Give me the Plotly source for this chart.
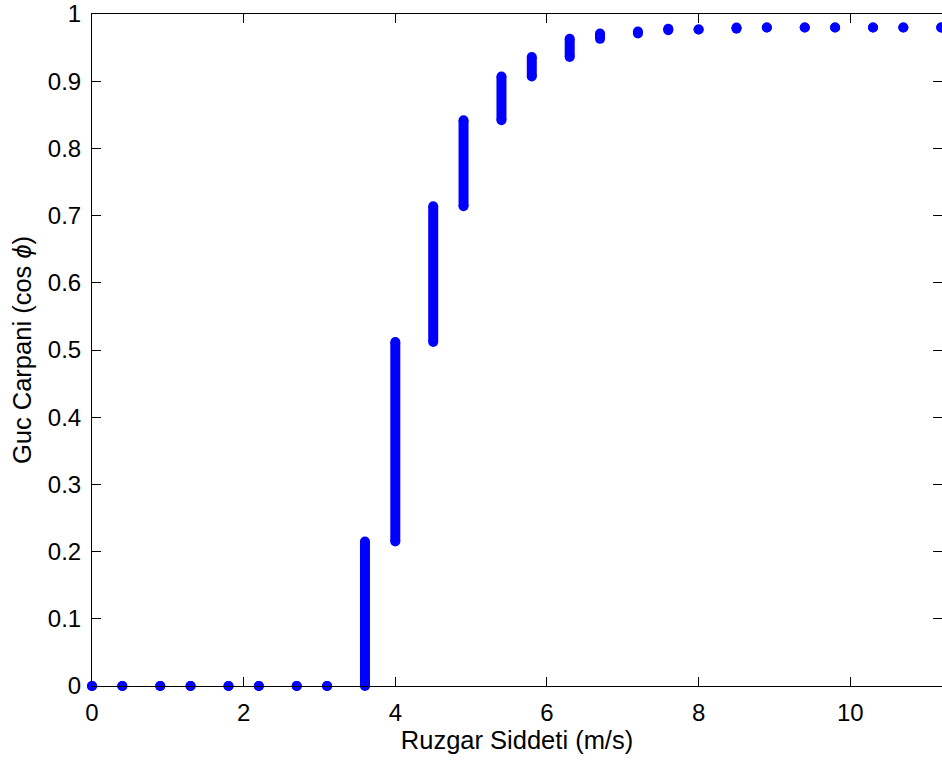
import plotly.graph_objects as go

# Wind speed bins (m/s) and the power-factor span observed in each bin
wind_speed = [0, 0.4, 0.9, 1.3, 1.8, 2.2, 2.7, 3.1, 3.6, 4.0, 4.5, 4.9, 5.4,
              5.8, 6.3, 6.7, 7.2, 7.6, 8.0, 8.5, 8.9, 9.4, 9.8, 10.3, 10.7, 11.2]
pf_low = [0, 0, 0, 0, 0, 0, 0, 0, 0, 0.215, 0.512, 0.714, 0.842,
          0.907, 0.936, 0.963, 0.971, 0.976, 0.977, 0.978, 0.980, 0.980, 0.980, 0.980, 0.980, 0.980]
pf_high = [0, 0, 0, 0, 0, 0, 0, 0, 0.215, 0.512, 0.714, 0.842, 0.907,
           0.936, 0.963, 0.971, 0.974, 0.978, 0.977, 0.980, 0.980, 0.980, 0.980, 0.980, 0.980, 0.980]

x_ticks = [0, 2, 4, 6, 8, 10]
y_ticks = [0, 0.1, 0.2, 0.3, 0.4, 0.5, 0.6, 0.7, 0.8, 0.9, 1]
y_tick_text = ["0", "0.1", "0.2", "0.3", "0.4", "0.5", "0.6", "0.7", "0.8", "0.9", "1"]

# Each bin becomes a vertical stroke from its low to its high value
xs, ys = [], []
for x, lo, hi in zip(wind_speed, pf_low, pf_high):
    xs += [x, x, None]
    ys += [lo, hi, None]

BLUE = "#0000ff"
FONT = "Liberation Sans, Arial, sans-serif"

fig = go.Figure(go.Scatter(
    x=xs, y=ys, mode="lines+markers",
    line=dict(color=BLUE, width=10),
    marker=dict(color=BLUE, size=10, line=dict(width=0)),
    cliponaxis=False, hoverinfo="skip", showlegend=False,
))

axis_common = dict(
    showgrid=False, zeroline=False,
    showline=True, linecolor="black", linewidth=1, mirror="ticks",
    ticks="inside", ticklen=9, tickwidth=1, tickcolor="black",
    tickfont=dict(family=FONT, size=24, color="black"),
    ticklabelstandoff=5,
)

fig.update_xaxes(
    range=[0, 11.21], tickvals=x_ticks, ticktext=[str(v) for v in x_ticks],
    title=dict(text="Ruzgar Siddeti (m/s)", font=dict(family=FONT, size=25.5, color="black"), standoff=6),
    **axis_common,
)
fig.update_yaxes(
    range=[0, 1], tickvals=y_ticks, ticktext=y_tick_text,
    title=dict(text="Guc Carpani (cos <i>ϕ</i>)", font=dict(family=FONT, size=25.5, color="black"), standoff=8),
    **axis_common,
)

fig.update_layout(
    width=942, height=763,
    margin=dict(l=92, r=0, t=14, b=77),
    plot_bgcolor="white", paper_bgcolor="white",
)

fig.write_html("out.html")
